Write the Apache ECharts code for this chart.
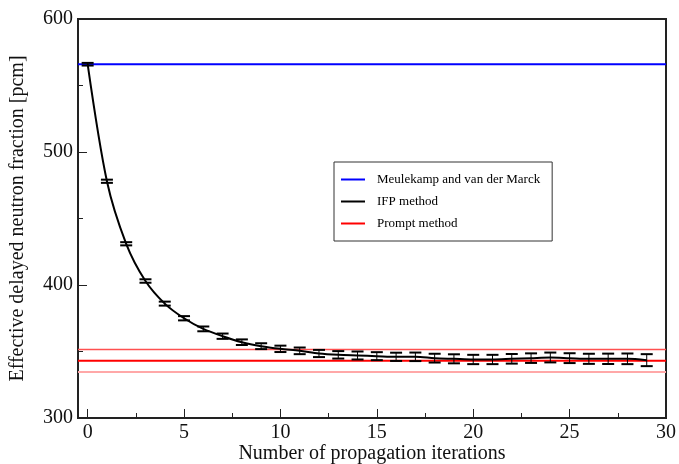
<!DOCTYPE html>
<html>
<head>
<meta charset="utf-8">
<script src="https://cdn.jsdelivr.net/npm/echarts@6/dist/echarts.min.js"></script>
<style>html,body{margin:0;padding:0;background:#fff}#c{width:679px;height:464px}</style>
</head>
<body>
<div id="c"></div>
<script>
// ---- data ----
const iterations = [0,1,2,3,4,5,6,7,8,9,10,11,12,13,14,15,16,17,18,19,20,21,22,23,24,25,26,27,28,29];
const ifpValues = [566,478,431,403,386,375,367,361.5,357,354,352,350.5,348.5,347.5,347,346.5,346,346,345,344.5,344,344,344.5,345,345.5,345,344.5,344.5,344.5,343.5];
const ifpErrors = [1,1.2,1.2,1.3,1.5,1.6,1.8,2,2.1,2.2,2.4,2.5,2.7,2.8,3,3,3.1,3.2,3.3,3.4,3.5,3.5,3.6,3.6,3.7,3.7,3.8,3.9,4,4.5];
const meulekampValue = 566;
const promptValue = 343;
const promptUpper = 351.5;
const promptLower = 334.5;
const xMajorTicks = [0,5,10,15,20,25,30];
const xMinorTicks = [2.5,7.5,12.5,17.5,22.5,27.5];
const xMin = -0.5, xMax = 30;

const font = 'Liberation Serif, Times New Roman, serif';
const chart = echarts.init(document.getElementById('c'));

const errData = iterations.map((x,i)=>[x, ifpValues[i]-ifpErrors[i], ifpValues[i]+ifpErrors[i]]);
const hLine = v => [[xMin, v],[xMax, v]];

chart.setOption({
  animation:false,
  grid:{left:78, top:19, right:13, bottom:46, outerBoundsMode:'none', containLabel:false, show:true, borderColor:'#222', borderWidth:2},
  legend:{
    left:334, top:162, orient:'vertical',
    data:['Meulekamp and van der Marck','IFP method','Prompt method'],
    icon:'rect', itemWidth:24, itemHeight:2, itemGap:9,
    padding:[11,12,11,7],
    borderColor:'#333', borderWidth:1, backgroundColor:'#fff',
    textStyle:{fontFamily:font, fontSize:13, color:'#000', padding:[0,0,0,7]}
  },
  xAxis:[{
    type:'value', min:xMin, max:xMax, position:'bottom',
    axisLine:{onZero:false, lineStyle:{color:'#222', width:2}},
    axisTick:{inside:true, length:9, customValues:xMajorTicks, lineStyle:{color:'#222', width:1}},
    axisLabel:{customValues:xMajorTicks, fontFamily:font, fontSize:20, color:'#111', margin:5},
    splitLine:{show:false},
    name:'Number of propagation iterations', nameLocation:'middle', nameGap:26, nameMoveOverlap:false,
    nameTextStyle:{fontFamily:font, fontSize:20, color:'#111', lineHeight:20}
  },{
    type:'value', min:xMin, max:xMax, position:'bottom', gridIndex:0,
    axisLine:{show:false, onZero:false},
    axisTick:{inside:true, length:5, customValues:xMinorTicks, lineStyle:{color:'#222', width:1}},
    axisLabel:{show:false}, splitLine:{show:false}
  }],
  yAxis:{
    type:'value', min:300, max:600, interval:100,
    axisLine:{show:true, onZero:false, lineStyle:{color:'#222', width:2}},
    axisTick:{show:true, inside:true, length:9, lineStyle:{color:'#222', width:1}},
    minorTick:{show:true, splitNumber:2, length:5, lineStyle:{color:'#222', width:1}},
    axisLabel:{fontFamily:font, fontSize:20, color:'#111', margin:5},
    splitLine:{show:false},
    name:'Effective delayed neutron fraction [pcm]', nameLocation:'middle', nameGap:50, nameMoveOverlap:false,
    nameTextStyle:{fontFamily:font, fontSize:20, color:'#111'}
  },
  series:[
    {name:'Meulekamp and van der Marck', type:'line', data:hLine(meulekampValue), showSymbol:false,
      lineStyle:{color:'#0000ff', width:2}, itemStyle:{color:'#0000ff'}, z:2},
    {name:'Prompt method', type:'line', data:hLine(promptValue), showSymbol:false,
      lineStyle:{color:'#ff0000', width:2}, itemStyle:{color:'#ff0000'}, z:2},
    {name:'Prompt upper', type:'line', data:hLine(promptUpper), showSymbol:false,
      lineStyle:{color:'#ff5050', width:1.5}, z:2},
    {name:'Prompt lower', type:'line', data:hLine(promptLower), showSymbol:false,
      lineStyle:{color:'#ffa8a8', width:2}, z:2},
    {name:'IFP method', type:'line', data:iterations.map((x,i)=>[x, ifpValues[i]]), showSymbol:false,
      smooth:0.3,
      lineStyle:{color:'#000', width:2}, itemStyle:{color:'#000'}, z:4},
    {name:'IFP errors', type:'custom', z:5,
      data:errData,
      renderItem:function(params, api){
        const x = api.value(0);
        const lo = api.coord([x, api.value(1)]);
        const hi = api.coord([x, api.value(2)]);
        const w = 6;
        const st = {stroke:'#000', lineWidth:2};
        return {type:'group', children:[
          {type:'line', shape:{x1:lo[0], y1:lo[1], x2:hi[0], y2:hi[1]}, style:{stroke:'#000', lineWidth:1}},
          {type:'line', shape:{x1:lo[0]-w, y1:lo[1], x2:lo[0]+w, y2:lo[1]}, style:st},
          {type:'line', shape:{x1:hi[0]-w, y1:hi[1], x2:hi[0]+w, y2:hi[1]}, style:st}
        ]};
      }}
  ]
});
</script>
</body>
</html>
